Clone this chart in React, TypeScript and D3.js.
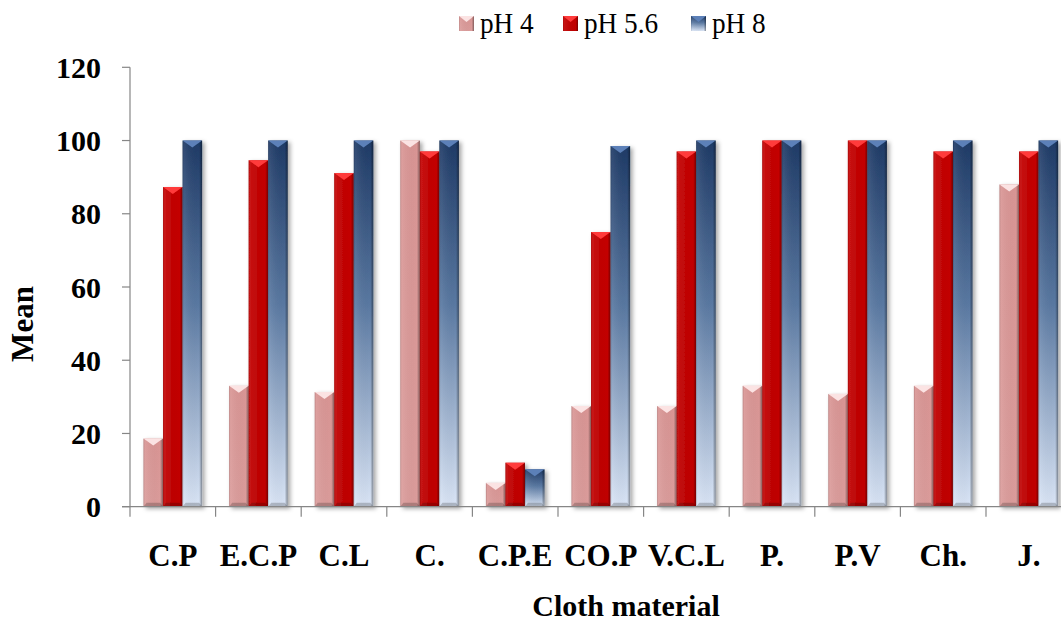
import React from "react";
import * as d3 from "d3";

const categories = ["C.P", "E.C.P", "C.L", "C.", "C.P.E", "CO.P", "V.C.L", "P.", "P.V", "Ch.", "J."];
const seriesNames = ["pH 4", "pH 5.6", "pH 8"];
const ph4 = [18.6, 33, 31.3, 100, 6.5, 27.5, 27.5, 33, 30.8, 33, 88];
const ph56 = [87.3, 94.6, 91.1, 97, 12, 75, 97, 100, 100, 97, 97];
const ph8 = [100, 100, 100, 100, 10.2, 98.5, 100, 100, 100, 100, 100];
const yTicks = [0, 20, 40, 60, 80, 100, 120];

const W = 1061;
const H = 622;
const left = 130;
const bottom = 506.7;
const top = 67.3;
const catW = 85.6;

const fills = ["url(#gPink)", "url(#gRed)", "url(#gBlue)"];
const topFacet = ["#fbe3e3", "#ff3b3b", "#5c80b8"];

export default function App() {
  const y = d3.scaleLinear().domain([0, 120]).range([bottom, top]);
  const x0 = d3.scaleBand<string>().domain(categories).range([left, left + catW * categories.length]);
  const x1 = d3.scaleBand<string>().domain(seriesNames).range([13.5, catW - 13.5]);
  const values = [ph4, ph56, ph8];
  const bw = x1.bandwidth();
  const serif = "'Liberation Serif', 'Times New Roman', serif";

  const legendX = [459, 563, 691];

  return (
    <div style={{ position: "absolute", left: 0, top: 0 }}>
      <svg width={W} height={H} viewBox={`0 0 ${W} ${H}`} style={{ display: "block", background: "#fff" }}>
        <defs>
          <linearGradient id="gPink" x1="0" y1="0" x2="0" y2="1">
            <stop offset="0" stopColor="#d99594" />
            <stop offset="1" stopColor="#db9c9b" />
          </linearGradient>
          <linearGradient id="gRed" x1="0" y1="0" x2="0" y2="1">
            <stop offset="0" stopColor="#c40000" />
            <stop offset="1" stopColor="#c00000" />
          </linearGradient>
          <linearGradient id="gBlue" x1="0" y1="0" x2="0" y2="1">
            <stop offset="0" stopColor="#1e3a66" />
            <stop offset="0.45" stopColor="#5a79a2" />
            <stop offset="1" stopColor="#dae5f6" />
          </linearGradient>
          <linearGradient id="gEdge" x1="0" y1="0" x2="1" y2="0">
            <stop offset="0" stopColor="#000" stopOpacity="0.18" />
            <stop offset="0.08" stopColor="#fff" stopOpacity="0.08" />
            <stop offset="0.85" stopColor="#000" stopOpacity="0" />
            <stop offset="1" stopColor="#000" stopOpacity="0.4" />
          </linearGradient>
          <filter id="shadow" x="-30%" y="-10%" width="160%" height="130%">
            <feDropShadow dx="2.5" dy="2" stdDeviation="2" floodColor="#000" floodOpacity="0.35" />
          </filter>
        </defs>

        {/* legend */}
        {seriesNames.map((s, i) => (
          <g key={s}>
            <rect x={legendX[i]} y={16} width={15} height={15} fill={fills[i]} />
            <rect x={legendX[i]} y={16} width={15} height={15} fill="url(#gEdge)" />
            <polygon
              points={`${legendX[i]},16 ${legendX[i] + 15},16 ${legendX[i] + 7.5},22`}
              fill={topFacet[i]}
            />
            <text
              x={legendX[i] + 21}
              y={33}
              fontFamily={serif}
              fontSize={29}
              fill="#000"
              transform={`translate(${legendX[i] + 21},33) scale(0.94,1) translate(${-(legendX[i] + 21)},-33)`}
            >
              {s}
            </text>
          </g>
        ))}

        {/* bars */}
        {categories.map((c, ci) => (
          <g key={c} filter="url(#shadow)">
            {values.map((vals, si) => {
              const bx = (x0(c) as number) + (x1(seriesNames[si]) as number);
              const by = y(vals[ci]);
              const bh = bottom - by;
              const facet = Math.min(7, bh / 2);
              return (
                <g key={si}>
                  <rect x={bx} y={by} width={bw} height={bh} fill={fills[si]} />
                  <rect x={bx} y={by} width={bw} height={bh} fill="url(#gEdge)" />
                  <polygon
                    points={`${bx},${by} ${bx + bw},${by} ${bx + bw / 2},${by + facet}`}
                    fill={topFacet[si]}
                  />
                  <polygon
                    points={`${bx},${bottom} ${bx + bw},${bottom} ${bx + bw - 3},${bottom - 4} ${bx + 3},${bottom - 4}`}
                    fill="#000"
                    fillOpacity={0.2}
                  />
                </g>
              );
            })}
          </g>
        ))}

        {/* axes */}
        <line x1={left} x2={left} y1={top} y2={bottom} stroke="#868686" strokeWidth={1.2} />
        <line x1={122} x2={W} y1={bottom} y2={bottom} stroke="#868686" strokeWidth={1.2} />
        {yTicks.map((t) => (
          <g key={t}>
            <line x1={122} x2={left} y1={y(t)} y2={y(t)} stroke="#868686" strokeWidth={1.2} />
            <text
              x={101}
              y={y(t) + 10.5}
              textAnchor="end"
              fontFamily={serif}
              fontWeight="bold"
              fontSize={30}
              fill="#000"
            >
              {t}
            </text>
          </g>
        ))}
        {categories.map((c) => (
          <line
            key={"t" + c}
            x1={x0(c) as number}
            x2={x0(c) as number}
            y1={bottom}
            y2={bottom + 10}
            stroke="#868686"
            strokeWidth={1.2}
          />
        ))}
        {categories.map((c) => (
          <text
            key={"l" + c}
            x={(x0(c) as number) + catW / 2}
            y={566}
            textAnchor="middle"
            fontFamily={serif}
            fontWeight="bold"
            fontSize={31}
            fill="#000"
          >
            {c}
          </text>
        ))}

        <text
          transform={`translate(33,324) rotate(-90)`}
          textAnchor="middle"
          fontFamily={serif}
          fontWeight="bold"
          fontSize={31}
          fill="#000"
        >
          Mean
        </text>
        <text x={626} y={616} textAnchor="middle" fontFamily={serif} fontWeight="bold" fontSize={30} fill="#000">
          Cloth material
        </text>
      </svg>
    </div>
  );
}
